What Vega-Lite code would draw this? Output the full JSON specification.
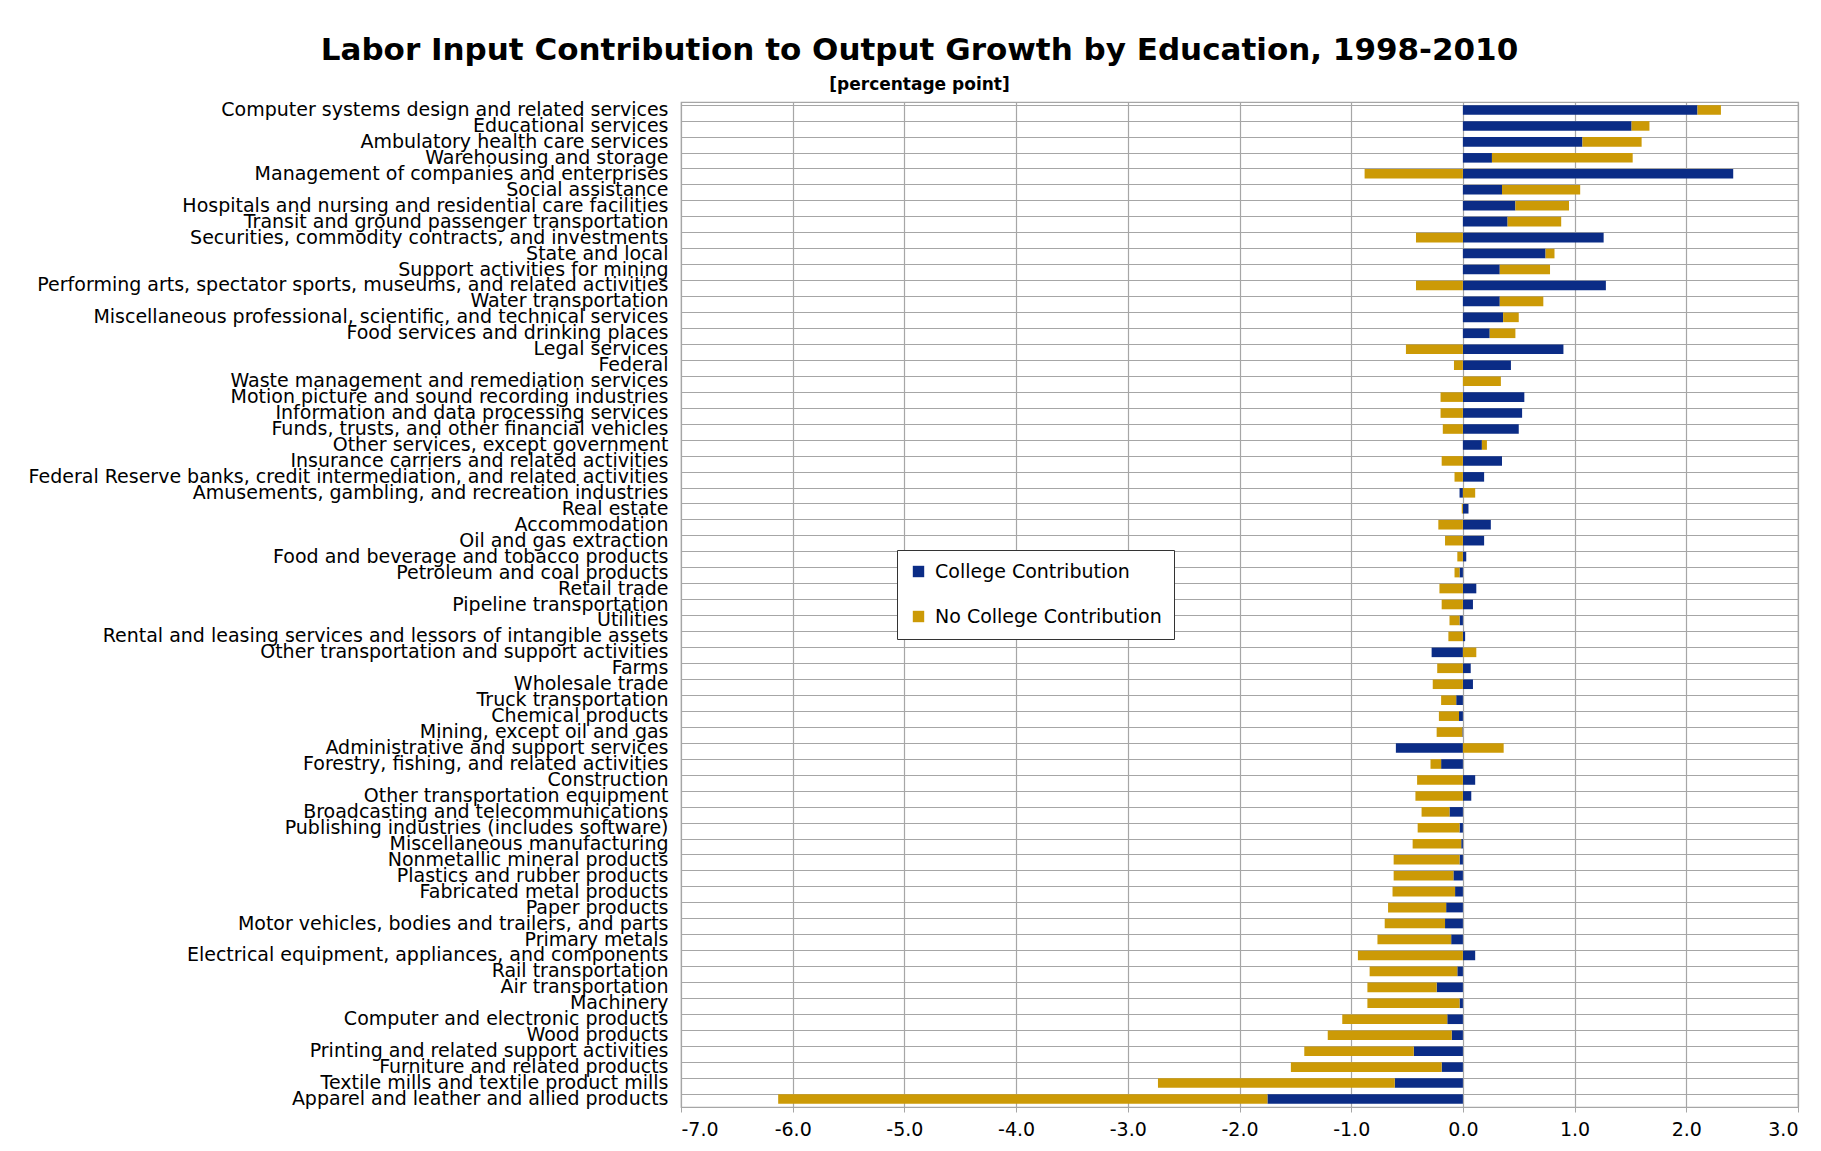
{
  "$schema": "https://vega.github.io/schema/vega-lite/v6.json",
  "width": 1117,
  "height": 1005,
  "autosize": {"type": "none"},
  "padding": {"left": 681, "top": 102, "right": 23, "bottom": 44},
  "background": "white",
  "title": {
    "text": "Labor Input Contribution to Output Growth by Education, 1998-2010",
    "subtitle": "[percentage point]",
    "anchor": "middle",
    "frame": "group",
    "dx": -320,
    "offset": 6,
    "font": "DejaVu Sans",
    "fontSize": 31,
    "fontWeight": "bold",
    "color": "#000000",
    "subtitleFont": "DejaVu Sans",
    "subtitleFontSize": 17,
    "subtitleFontWeight": "bold",
    "subtitleColor": "#000000",
    "subtitlePadding": 10
  },
  "data": {
    "values": [
      {"industry": "Computer systems design and related services", "College Contribution": 2.10, "No College Contribution": 0.21},
      {"industry": "Educational services", "College Contribution": 1.51, "No College Contribution": 0.16},
      {"industry": "Ambulatory health care services", "College Contribution": 1.07, "No College Contribution": 0.53},
      {"industry": "Warehousing and storage", "College Contribution": 0.26, "No College Contribution": 1.26},
      {"industry": "Management of companies and enterprises", "College Contribution": 2.42, "No College Contribution": -0.88},
      {"industry": "Social assistance", "College Contribution": 0.35, "No College Contribution": 0.70},
      {"industry": "Hospitals and nursing and residential care facilities", "College Contribution": 0.47, "No College Contribution": 0.48},
      {"industry": "Transit and ground passenger transportation", "College Contribution": 0.40, "No College Contribution": 0.48},
      {"industry": "Securities, commodity contracts, and investments", "College Contribution": 1.26, "No College Contribution": -0.42},
      {"industry": "State and local", "College Contribution": 0.74, "No College Contribution": 0.08},
      {"industry": "Support activities for mining", "College Contribution": 0.33, "No College Contribution": 0.45},
      {"industry": "Performing arts, spectator sports, museums, and related activities", "College Contribution": 1.28, "No College Contribution": -0.42},
      {"industry": "Water transportation", "College Contribution": 0.33, "No College Contribution": 0.39},
      {"industry": "Miscellaneous professional, scientific, and technical services", "College Contribution": 0.36, "No College Contribution": 0.14},
      {"industry": "Food services and drinking places", "College Contribution": 0.24, "No College Contribution": 0.23},
      {"industry": "Legal services", "College Contribution": 0.90, "No College Contribution": -0.51},
      {"industry": "Federal", "College Contribution": 0.43, "No College Contribution": -0.08},
      {"industry": "Waste management and remediation services", "College Contribution": 0.0, "No College Contribution": 0.34},
      {"industry": "Motion picture and sound recording industries", "College Contribution": 0.55, "No College Contribution": -0.20},
      {"industry": "Information and data processing services", "College Contribution": 0.53, "No College Contribution": -0.20},
      {"industry": "Funds, trusts, and other financial vehicles", "College Contribution": 0.50, "No College Contribution": -0.18},
      {"industry": "Other services, except government", "College Contribution": 0.17, "No College Contribution": 0.045},
      {"industry": "Insurance carriers and related activities", "College Contribution": 0.35, "No College Contribution": -0.19},
      {"industry": "Federal Reserve banks, credit intermediation, and related activities", "College Contribution": 0.19, "No College Contribution": -0.075},
      {"industry": "Amusements, gambling, and recreation industries", "College Contribution": -0.03, "No College Contribution": 0.11},
      {"industry": "Real estate", "College Contribution": 0.05, "No College Contribution": -0.01},
      {"industry": "Accommodation", "College Contribution": 0.25, "No College Contribution": -0.22},
      {"industry": "Oil and gas extraction", "College Contribution": 0.19, "No College Contribution": -0.16},
      {"industry": "Food and beverage and tobacco products", "College Contribution": 0.03, "No College Contribution": -0.05},
      {"industry": "Petroleum and coal products", "College Contribution": -0.03, "No College Contribution": -0.045},
      {"industry": "Retail trade", "College Contribution": 0.12, "No College Contribution": -0.21},
      {"industry": "Pipeline transportation", "College Contribution": 0.09, "No College Contribution": -0.19},
      {"industry": "Utilities", "College Contribution": -0.03, "No College Contribution": -0.09},
      {"industry": "Rental and leasing services and lessors of intangible assets", "College Contribution": 0.02, "No College Contribution": -0.13},
      {"industry": "Other transportation and support activities", "College Contribution": -0.28, "No College Contribution": 0.12},
      {"industry": "Farms", "College Contribution": 0.07, "No College Contribution": -0.23},
      {"industry": "Wholesale trade", "College Contribution": 0.09, "No College Contribution": -0.27},
      {"industry": "Truck transportation", "College Contribution": -0.06, "No College Contribution": -0.135},
      {"industry": "Chemical products", "College Contribution": -0.035, "No College Contribution": -0.18},
      {"industry": "Mining, except oil and gas", "College Contribution": -0.005, "No College Contribution": -0.23},
      {"industry": "Administrative and support services", "College Contribution": -0.60, "No College Contribution": 0.365},
      {"industry": "Forestry, fishing, and related activities", "College Contribution": -0.195, "No College Contribution": -0.095},
      {"industry": "Construction", "College Contribution": 0.11, "No College Contribution": -0.41},
      {"industry": "Other transportation equipment", "College Contribution": 0.075, "No College Contribution": -0.425},
      {"industry": "Broadcasting and telecommunications", "College Contribution": -0.12, "No College Contribution": -0.25},
      {"industry": "Publishing industries (includes software)", "College Contribution": -0.03, "No College Contribution": -0.375},
      {"industry": "Miscellaneous manufacturing", "College Contribution": -0.015, "No College Contribution": -0.435},
      {"industry": "Nonmetallic mineral products", "College Contribution": -0.03, "No College Contribution": -0.59},
      {"industry": "Plastics and rubber products", "College Contribution": -0.085, "No College Contribution": -0.535},
      {"industry": "Fabricated metal products", "College Contribution": -0.07, "No College Contribution": -0.56},
      {"industry": "Paper products", "College Contribution": -0.15, "No College Contribution": -0.52},
      {"industry": "Motor vehicles, bodies and trailers, and parts", "College Contribution": -0.16, "No College Contribution": -0.54},
      {"industry": "Primary metals", "College Contribution": -0.105, "No College Contribution": -0.66},
      {"industry": "Electrical equipment, appliances, and components", "College Contribution": 0.11, "No College Contribution": -0.94},
      {"industry": "Rail transportation", "College Contribution": -0.05, "No College Contribution": -0.785},
      {"industry": "Air transportation", "College Contribution": -0.235, "No College Contribution": -0.62},
      {"industry": "Machinery", "College Contribution": -0.03, "No College Contribution": -0.825},
      {"industry": "Computer and electronic products", "College Contribution": -0.14, "No College Contribution": -0.94},
      {"industry": "Wood products", "College Contribution": -0.10, "No College Contribution": -1.11},
      {"industry": "Printing and related support activities", "College Contribution": -0.44, "No College Contribution": -0.98},
      {"industry": "Furniture and related products", "College Contribution": -0.19, "No College Contribution": -1.35},
      {"industry": "Textile mills and textile product mills", "College Contribution": -0.61, "No College Contribution": -2.12},
      {"industry": "Apparel and leather and allied products", "College Contribution": -1.75, "No College Contribution": -4.38}
    ]
  },
  "transform": [
    {"fold": ["College Contribution", "No College Contribution"], "as": ["series", "value"]}
  ],
  "mark": {"type": "bar"},
  "encoding": {
    "y": {
      "field": "industry",
      "type": "nominal",
      "sort": null,
      "title": null,
      "scale": {"paddingInner": 0.4, "paddingOuter": 0.2},
      "axis": {
        "bandPosition": 0,
        "grid": true,
        "gridColor": "#a6a6a6",
        "gridWidth": 1.2,
        "ticks": false,
        "domain": false,
        "labelFont": "DejaVu Sans",
        "labelFontSize": 19,
        "labelColor": "#000000",
        "labelPadding": 13,
        "labelLimit": 800
      }
    },
    "x": {
      "field": "value",
      "type": "quantitative",
      "stack": "zero",
      "title": null,
      "scale": {"domain": [-7, 3], "nice": false, "zero": false},
      "axis": {
        "values": [-7, -6, -5, -4, -3, -2, -1, 0, 1, 2, 3],
        "labelExpr": "replace(format(datum.value, '.1f'), '\u2212', '-')",
        "grid": true,
        "gridColor": "#a6a6a6",
        "gridWidth": 1.2,
        "domain": false,
        "ticks": true,
        "tickColor": "#a6a6a6",
        "tickSize": 5,
        "labelFont": "DejaVu Sans",
        "labelFontSize": 19,
        "labelColor": "#000000",
        "labelPadding": 8
      }
    },
    "color": {
      "field": "series",
      "type": "nominal",
      "scale": {
        "domain": ["College Contribution", "No College Contribution"],
        "range": ["#0b2c86", "#cc9a06"]
      },
      "legend": {
        "title": null,
        "orient": "none",
        "legendX": 216,
        "legendY": 448,
        "direction": "vertical",
        "fillColor": "#ffffff",
        "strokeColor": "#333333",
        "padding": 12,
        "symbolType": "square",
        "symbolSize": 130,
        "symbolStrokeWidth": 0,
        "labelFont": "DejaVu Sans",
        "labelFontSize": 19,
        "labelColor": "#000000",
        "labelLimit": 400,
        "rowPadding": 25,
        "labelOffset": 7
      }
    }
  },
  "config": {
    "view": {"stroke": "#a6a6a6", "strokeWidth": 1.2}
  }
}
